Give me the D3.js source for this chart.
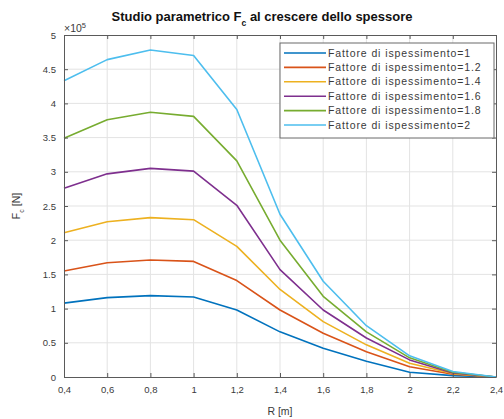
<!DOCTYPE html>
<html>
<head>
<meta charset="utf-8">
<script src="https://cdn.jsdelivr.net/npm/d3@7"></script>
<style>
  html, body { margin: 0; padding: 0; background: #fff; }
  svg { display: block; font-family: "Liberation Sans", Arial, Helvetica, sans-serif; }
</style>
</head>
<body>
<svg id="chart" width="504" height="419"></svg>
<script>
// Radius values R [m]
const radii = [0.4, 0.6, 0.8, 1.0, 1.2, 1.4, 1.6, 1.8, 2.0, 2.2, 2.4];

// F_c [N] in units of 1e5, one array per thickening factor
const fattore1   = [1.08, 1.16, 1.19, 1.17, 0.98, 0.66, 0.42, 0.23, 0.07, 0.02, 0.00];
const fattore1_2 = [1.55, 1.67, 1.71, 1.69, 1.41, 0.98, 0.64, 0.37, 0.15, 0.04, 0.00];
const fattore1_4 = [2.11, 2.27, 2.33, 2.30, 1.91, 1.28, 0.81, 0.47, 0.20, 0.05, 0.00];
const fattore1_6 = [2.76, 2.97, 3.05, 3.01, 2.51, 1.57, 0.98, 0.57, 0.25, 0.06, 0.00];
const fattore1_8 = [3.49, 3.76, 3.87, 3.81, 3.16, 2.00, 1.18, 0.66, 0.28, 0.07, 0.00];
const fattore2   = [4.33, 4.64, 4.78, 4.70, 3.91, 2.38, 1.40, 0.75, 0.31, 0.08, 0.00];

const seriesNames = [
  "Fattore di ispessimento=1",
  "Fattore di ispessimento=1.2",
  "Fattore di ispessimento=1.4",
  "Fattore di ispessimento=1.6",
  "Fattore di ispessimento=1.8",
  "Fattore di ispessimento=2"
];
const seriesColors = ["#0072BD", "#D95319", "#EDB120", "#7E2F8E", "#77AC30", "#4DBEEE"];
const seriesValues = [fattore1, fattore1_2, fattore1_4, fattore1_6, fattore1_8, fattore2];

const xTicks = [0.4, 0.6, 0.8, 1.0, 1.2, 1.4, 1.6, 1.8, 2.0, 2.2, 2.4];
const xTickLabels = ["0,4", "0,6", "0,8", "1", "1,2", "1,4", "1,6", "1,8", "2", "2,2", "2,4"];
const yTicks = [0, 0.5, 1, 1.5, 2, 2.5, 3, 3.5, 4, 4.5, 5];
const yTickLabels = ["0", "0.5", "1", "1.5", "2", "2.5", "3", "3.5", "4", "4.5", "5"];

const svg = d3.select("#chart");
const W = 504, H = 419;
const m = { left: 64, right: 8, top: 35, bottom: 42 };
const pw = W - m.left - m.right, ph = H - m.top - m.bottom;

svg.append("rect").attr("width", W).attr("height", H).attr("fill", "#fff");

const x = d3.scaleLinear().domain([0.4, 2.4]).range([m.left, m.left + pw]);
const y = d3.scaleLinear().domain([0, 5]).range([m.top + ph, m.top]);

const g = svg.append("g");

// grid
g.append("g").selectAll("line").data(xTicks.slice(1, -1)).join("line")
  .attr("x1", d => x(d)).attr("x2", d => x(d))
  .attr("y1", m.top).attr("y2", m.top + ph)
  .attr("stroke", "#e3e3e3").attr("stroke-width", 1);
g.append("g").selectAll("line").data(yTicks.slice(1, -1)).join("line")
  .attr("x1", m.left).attr("x2", m.left + pw)
  .attr("y1", d => y(d)).attr("y2", d => y(d))
  .attr("stroke", "#e3e3e3").attr("stroke-width", 1);

// series lines
const line = d3.line().x((d, i) => x(radii[i])).y(d => y(d));
g.append("g").selectAll("path").data(seriesValues).join("path")
  .attr("d", d => line(d))
  .attr("fill", "none")
  .attr("stroke", (d, i) => seriesColors[i])
  .attr("stroke-width", 1.6)
  .attr("stroke-linejoin", "round");

// axes with inward ticks, box on
const axisColor = "#5a5a5a";
const tickLen = 4;
function styleAxis(sel) {
  sel.select(".domain").attr("stroke", axisColor);
  sel.selectAll(".tick line").attr("stroke", axisColor);
  sel.selectAll(".tick text").attr("fill", "#3a3a3a").attr("font-size", 9.5);
}
const xAxis = d3.axisBottom(x).tickValues(xTicks)
  .tickFormat((d, i) => xTickLabels[i]).tickSizeInner(-tickLen).tickSizeOuter(0).tickPadding(9);
const yAxis = d3.axisLeft(y).tickValues(yTicks)
  .tickFormat((d, i) => yTickLabels[i]).tickSizeInner(-tickLen).tickSizeOuter(0).tickPadding(8);
svg.append("g").attr("transform", `translate(0,${m.top + ph})`).call(xAxis).call(styleAxis);
svg.append("g").attr("transform", `translate(${m.left},0)`).call(yAxis).call(styleAxis);
svg.append("g").attr("transform", `translate(0,${m.top})`)
  .call(d3.axisTop(x).tickValues(xTicks).tickFormat("").tickSizeInner(-tickLen).tickSizeOuter(0))
  .call(styleAxis);
svg.append("g").attr("transform", `translate(${m.left + pw},0)`)
  .call(d3.axisRight(y).tickValues(yTicks).tickFormat("").tickSizeInner(-tickLen).tickSizeOuter(0))
  .call(styleAxis);

// exponent marker
const ex = svg.append("text").attr("x", m.left).attr("y", m.top - 3)
  .attr("font-size", 10.5).attr("fill", "#3a3a3a");
ex.append("tspan").text("\u00d710");
ex.append("tspan").attr("dy", -4).attr("font-size", 7.5).text("5");

// title
const title = svg.append("text").attr("x", 262).attr("y", 21)
  .attr("text-anchor", "middle").attr("font-size", 13).attr("font-weight", "bold").attr("fill", "#111");
title.append("tspan").text("Studio parametrico F");
title.append("tspan").attr("dy", 5).attr("font-size", 8.5).text("c");
title.append("tspan").attr("dy", -5).text(" al crescere dello spessore");

// axis labels
svg.append("text").attr("x", m.left + pw / 2).attr("y", 415)
  .attr("text-anchor", "middle").attr("font-size", 10.5).attr("fill", "#3a3a3a").text("R [m]");
const yl = svg.append("text").attr("transform", `translate(20,${m.top + ph / 2}) rotate(-90)`)
  .attr("text-anchor", "middle").attr("font-size", 10.5).attr("fill", "#3a3a3a");
yl.append("tspan").text("F");
yl.append("tspan").attr("dy", 4).attr("font-size", 7).text("c");
yl.append("tspan").attr("dy", -4).text(" [N]");

// legend
const lg = { x: 280, y: 43, w: 214, h: 95 };
const leg = svg.append("g");
leg.append("rect").attr("x", lg.x).attr("y", lg.y).attr("width", lg.w).attr("height", lg.h)
  .attr("fill", "#fff").attr("stroke", "#6a6a6a").attr("stroke-width", 1);
const rows = leg.selectAll("g").data(seriesNames).join("g")
  .attr("transform", (d, i) => `translate(0,${lg.y + 10 + i * 14.4})`);
rows.append("line").attr("x1", lg.x + 4).attr("x2", lg.x + 46).attr("y1", 0).attr("y2", 0)
  .attr("stroke", (d, i) => seriesColors[i]).attr("stroke-width", 1.6);
rows.append("text").attr("x", lg.x + 48).attr("y", 3.5)
  .attr("font-size", 10.5).attr("letter-spacing", 0.9).attr("fill", "#3a3a3a").text(d => d);
</script>
</body>
</html>
